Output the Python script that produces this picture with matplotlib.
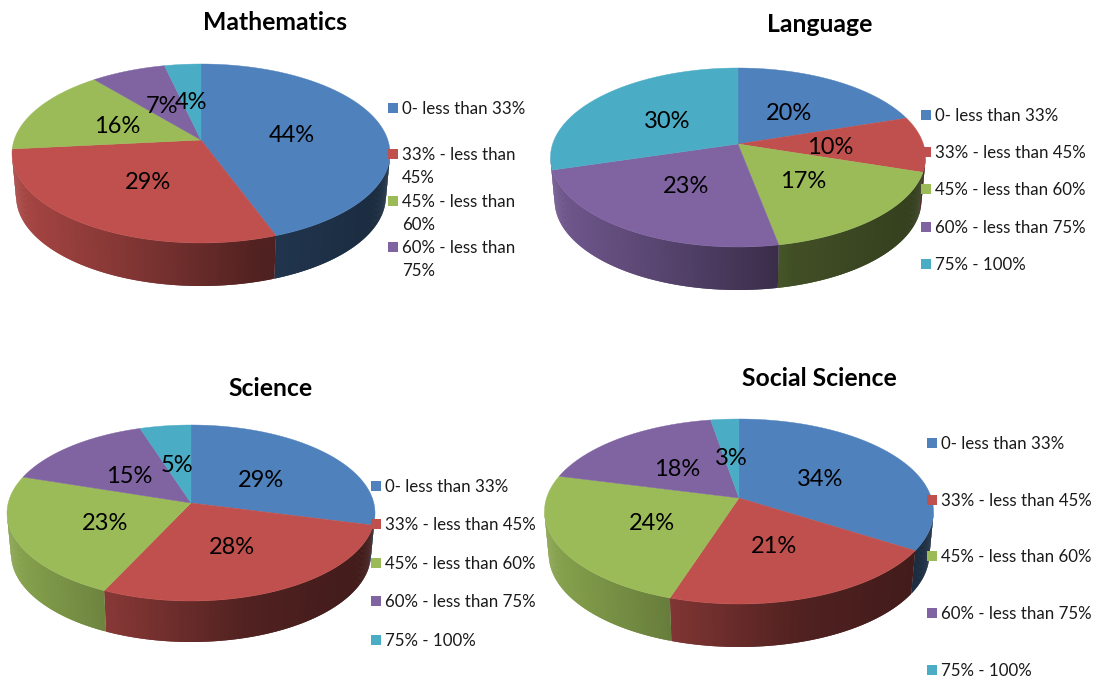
import matplotlib
matplotlib.use("Agg")
import matplotlib.pyplot as plt
import numpy as np
from matplotlib.patches import Polygon, Rectangle

plt.rcParams['font.family'] = ['Lato', 'DejaVu Sans']

# share of students in each band, in percent (labels show them rounded)
math_values = [44.4, 29, 15.6, 7.4, 3.6]
language_values = [20, 10, 17, 23.4, 29.6]
science_values = [29, 28, 23, 15, 5]
social_values = [34, 21, 24, 18.3, 2.7]

subjects = ['Mathematics', 'Language', 'Science', 'Social Science']
bands = ['0- less than 33%', '33% - less than 45%', '45% - less than 60%',
         '60% - less than 75%', '75% - 100%']
bands_wrapped = ['0- less than 33%', '33% - less than\n45%', '45% - less than\n60%',
                 '60% - less than\n75%']

colors = ['#4F81BD', '#C0504D', '#9BBB59', '#8064A2', '#4BACC6']

# layout in pixels: centre x, centre y, radius x, height above, height below, wall depth
layouts = [
    dict(cx=201, cy=140, half=189, up=76, down=103, depth=43, title=(275, 22.5),
         leg_x=388, leg_y=[108, 154, 201, 247]),
    dict(cx=738, cy=144, half=187.5, up=76, down=103, depth=43, title=(820, 24.5),
         leg_x=921, leg_y=[115, 152, 189, 227, 264]),
    dict(cx=191, cy=503, half=184, up=78, down=98, depth=41, title=(270.5, 388.5),
         leg_x=371, leg_y=[486, 524, 563, 601, 640]),
    dict(cx=739, cy=498, half=194.5, up=79, down=106, depth=43, title=(819, 378.5),
         leg_x=927, leg_y=[443, 500, 556, 613, 670]),
]


def project(u, v, lay, drop=0.0):
    # tilted disc: the near side of the pie comes out bigger than the far side
    a = 2 / (1 / lay['up'] + 1 / lay['down'])
    k = a / lay['up'] - 1
    rx = lay['half'] * np.sqrt(1 - k ** 2)
    shrink = 1 - 0.022 * drop / lay['depth']
    x = lay['cx'] + shrink * rx * u / (1 + k * v)
    y = lay['cy'] - a * v / (1 + k * v) + drop
    return x, y


def wall_shade(x, lay):
    t = (x - (lay['cx'] - lay['half'])) / (2 * lay['half'])
    return np.interp(t, [0, 0.3, 0.65, 1], [0.88, 0.68, 0.42, 0.33])


def draw_pie(ax, values, lay):
    edges = np.cumsum([0] + list(values)) / sum(values) * 2 * np.pi

    # side wall first, thin strips so it can carry the shading
    a = 2 / (1 / lay['up'] + 1 / lay['down'])
    k = a / lay['up'] - 1
    limit = np.pi / 2 + np.arcsin(k)
    far_left = 2 * np.pi - limit
    for i in range(len(values)):
        start = max(edges[i], limit)
        stop = min(edges[i + 1], far_left)
        # a sliver on the far left is not visible, the slice before it takes over
        if edges[i] > np.pi and far_left - edges[i] < 0.2:
            continue
        if edges[i + 1] > np.pi and far_left - edges[i + 1] < 0.2:
            stop = far_left
        if stop <= start:
            continue
        steps = np.linspace(start, stop, max(2, int((stop - start) * 120)))
        step = steps[1] - steps[0]
        base = np.array(matplotlib.colors.to_rgb(colors[i]))
        for t0 in steps[:-1]:
            # each strip runs on under the next one, that hides the seams
            t1 = min(t0 + 2 * step, stop)
            x0, y0 = project(np.sin(t0), np.cos(t0), lay)
            x1, y1 = project(np.sin(t1), np.cos(t1), lay)
            x2, y2 = project(np.sin(t1), np.cos(t1), lay, lay['depth'])
            x3, y3 = project(np.sin(t0), np.cos(t0), lay, lay['depth'])
            col = base * wall_shade((x0 + x1) / 2, lay)
            ax.add_patch(Polygon([(x0, y0), (x1, y1), (x2, y2), (x3, y3)],
                                 facecolor=col, edgecolor='none', lw=0))

    # top face
    for i in range(len(values)):
        t = np.linspace(edges[i], edges[i + 1], 200)
        x, y = project(np.sin(t), np.cos(t), lay)
        pts = [(lay['cx'], lay['cy'])] + list(zip(x, y))
        ax.add_patch(Polygon(pts, facecolor=colors[i], edgecolor=colors[i], lw=0.3))

    # percent labels sit halfway out along the middle of each slice
    for i, val in enumerate(values):
        mid = (edges[i] + edges[i + 1]) / 2
        x, y = project(0.5 * np.sin(mid), 0.5 * np.cos(mid), lay)
        ax.text(x, y + 3, str(round(val)) + '%', fontsize=17, color='black',
                ha='center', va='center', zorder=5)


def draw_legend(ax, labels, lay):
    x = lay['leg_x']
    for i, (label, y) in enumerate(zip(labels, lay['leg_y'])):
        ax.add_patch(Rectangle((x, y - 5), 10, 10, facecolor=colors[i], edgecolor='none'))
        for j, line in enumerate(label.split('\n')):
            ax.text(x + 14, y + j * 23 + 1, line, fontsize=12.2, color='#1a1a1a',
                    ha='left', va='center')


fig = plt.figure(figsize=(10.94, 6.8), dpi=100)
ax = fig.add_axes([0, 0, 1, 1])
ax.set_xlim(0, 1094)
ax.set_ylim(680, 0)
ax.axis('off')

all_values = [math_values, language_values, science_values, social_values]
all_labels = [bands_wrapped, bands, bands, bands]

for subject, values, labels, lay in zip(subjects, all_values, all_labels, layouts):
    draw_pie(ax, values, lay)
    draw_legend(ax, labels, lay)
    ax.text(lay['title'][0], lay['title'][1], subject, fontsize=17.8, fontweight='bold',
            ha='center', va='center')

fig.savefig('out.png', dpi=100)
